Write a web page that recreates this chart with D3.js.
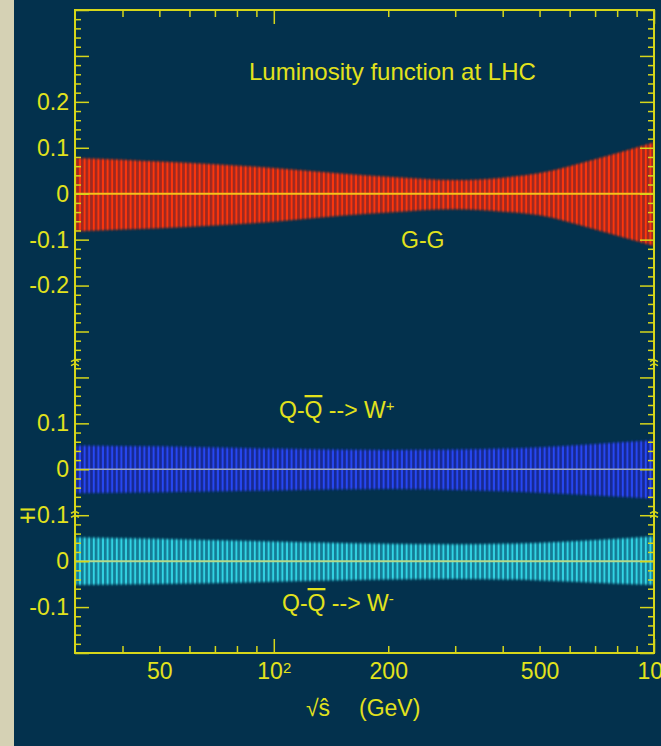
<!DOCTYPE html>
<html>
<head>
<meta charset="utf-8">
<script src="https://cdn.jsdelivr.net/npm/d3@7"></script>
<style>
body { margin: 0; background: #03314d; }
text { font-family: "Liberation Sans", Arial, Helvetica, sans-serif; fill: #e2e21c; }
</style>
</head>
<body>
<div id="chart"></div>
<script>
// sqrt(s) in GeV, relative uncertainty bands
var ggE = [30, 40, 50, 70, 100, 150, 200, 300, 400, 500, 700, 1000];
var ggUp = [0.078, 0.074, 0.070, 0.064, 0.056, 0.044, 0.037, 0.030, 0.035, 0.045, 0.075, 0.112];
var ggDn = [-0.082, -0.078, -0.075, -0.069, -0.061, -0.048, -0.041, -0.034, -0.039, -0.047, -0.078, -0.114];

var qqE = [30, 50, 100, 200, 300, 500, 700, 1000];
var wpUp = [0.052, 0.050, 0.045, 0.042, 0.043, 0.048, 0.055, 0.063];
var wpDn = [-0.052, -0.050, -0.046, -0.043, -0.045, -0.051, -0.057, -0.064];
var wmUp = [0.052, 0.049, 0.043, 0.038, 0.037, 0.040, 0.046, 0.054];
var wmDn = [-0.052, -0.050, -0.045, -0.040, -0.039, -0.042, -0.047, -0.052];

// x tick labels
var xTicks = [40, 50, 60, 70, 80, 90, 100, 200, 300, 400, 500, 600, 700, 800, 900, 1000];
var xLabels = {50: "50", 100: "10|2", 200: "200", 500: "500", 1000: "10|3"};

// y tick labels, keyed by hundredths on the stacked axis
var yLabels = {"20": "0.2", "10": "0.1", "0": "0", "-10": "-0.1", "-20": "-0.2",
               "-50": "0.1", "-60": "0", "-70": "\u22130.1",
               "-80": "0", "-90": "-0.1"};

var W = 661, H = 746;
var mLeft = 75, mRight = 654, mTop = 10, mBottom = 653;

var svg = d3.select("#chart").append("svg")
        .attr("width", W)
        .attr("height", H);

svg.append("rect").attr("width", W).attr("height", H).attr("fill", "#03314d");
svg.append("rect").attr("width", 14).attr("height", H).attr("fill", "#d5d1b4");

var x = d3.scaleLog().domain([30, 1000]).range([mLeft, mRight]);
var y = d3.scaleLinear().domain([-1.0, 0.4]).range([mBottom, mTop]);

var defs = svg.append("defs");
defs.append("filter").attr("id", "soft")
        .append("feGaussianBlur").attr("stdDeviation", "0.2 1.3");

function stripes(id, base, bright) {
    var p = defs.append("pattern").attr("id", id)
            .attr("patternUnits", "userSpaceOnUse")
            .attr("width", 4.6).attr("height", 10);
    p.append("rect").attr("width", 4.6).attr("height", 10).attr("fill", base);
    p.append("rect").attr("x", 0.8).attr("width", 1.9).attr("height", 10).attr("fill", bright);
}
stripes("redStripes", "#9c2a22", "#ff3608");
stripes("blueStripes", "#182a92", "#2848f6");
stripes("cyanStripes", "#137a94", "#34d6e6");

var bands = [
    {e: ggE, up: ggUp, dn: ggDn, off: 0, fill: "url(#redStripes)", line: "#f2c21c", lw: 2},
    {e: qqE, up: wpUp, dn: wpDn, off: -0.6, fill: "url(#blueStripes)", line: "#9aa6c4", lw: 1.5},
    {e: qqE, up: wmUp, dn: wmDn, off: -0.8, fill: "url(#cyanStripes)", line: "#b4d88a", lw: 2}
];

bands.forEach(function (b) {
    var pts = b.e.map(function (e, i) {
        return {e: e, up: b.up[i], dn: b.dn[i]};
    });
    var area = d3.area()
            .curve(d3.curveMonotoneX)
            .x(function (d) { return x(d.e); })
            .y0(function (d) { return y(b.off + d.dn); })
            .y1(function (d) { return y(b.off + d.up); });
    svg.append("path")
            .datum(pts)
            .attr("d", area)
            .attr("fill", b.fill)
            .attr("filter", "url(#soft)");
    svg.append("line")
            .attr("x1", mLeft).attr("x2", mRight)
            .attr("y1", y(b.off)).attr("y2", y(b.off))
            .attr("stroke", b.line)
            .attr("stroke-width", b.lw);
});

// axes with inward ticks
var yTicks = d3.range(-50, 21).map(function (i) { return i * 0.02; });
function isMajorY(v) { return Math.round(v * 50) % 5 === 0; }
function key(v) { return String(Math.round(v * 100)); }

function styleAxis(g) {
    g.select(".domain").remove();
    g.selectAll(".tick line").attr("stroke", "#d6d61a").attr("stroke-width", 1.5);
    g.selectAll(".tick text")
            .attr("fill", "#e2e21c")
            .style("font-family", "'Liberation Sans', Arial, sans-serif")
            .style("font-size", "23px");
}

var yl = svg.append("g")
        .attr("transform", "translate(" + mLeft + ",0)")
        .call(d3.axisLeft(y).tickValues(yTicks).tickSizeInner(-6).tickSizeOuter(0).tickPadding(6)
                .tickFormat(function (v) { return yLabels[key(v)] || ""; }))
        .call(styleAxis);
yl.selectAll(".tick line").attr("x2", function (v) { return isMajorY(v) ? 14 : 6; });

var yr = svg.append("g")
        .attr("transform", "translate(" + mRight + ",0)")
        .call(d3.axisRight(y).tickValues(yTicks).tickSizeInner(-6).tickSizeOuter(0)
                .tickFormat(""))
        .call(styleAxis);
yr.selectAll(".tick line").attr("x2", function (v) { return isMajorY(v) ? -14 : -6; });

function isMajorX(v) { return v === 100 || v === 1000; }

var xb = svg.append("g")
        .attr("transform", "translate(0," + mBottom + ")")
        .call(d3.axisBottom(x).tickValues(xTicks).tickSizeInner(-7).tickSizeOuter(0).tickPadding(10)
                .tickFormat(function (v) { return xLabels[v] || ""; }))
        .call(styleAxis);
xb.selectAll(".tick line").attr("y2", function (v) { return isMajorX(v) ? -14 : -7; });
xb.selectAll(".tick text").each(function (v) {
    var s = xLabels[v];
    if (s && s.indexOf("|") > 0) {
        var t = d3.select(this).text(s.split("|")[0]);
        t.append("tspan").attr("dy", "-0.45em").style("font-size", "15px").text(s.split("|")[1]);
    }
});

var xt = svg.append("g")
        .attr("transform", "translate(0," + mTop + ")")
        .call(d3.axisTop(x).tickValues(xTicks).tickSizeInner(-7).tickSizeOuter(0).tickFormat(""))
        .call(styleAxis);
xt.selectAll(".tick line").attr("y2", function (v) { return isMajorX(v) ? 14 : 7; });

// frame
svg.append("rect")
        .attr("x", mLeft).attr("y", mTop)
        .attr("width", mRight - mLeft).attr("height", mBottom - mTop)
        .attr("fill", "none")
        .attr("stroke", "#d6d61a")
        .attr("stroke-width", 2);

// axis break marks
[-0.37, -0.7].forEach(function (v) {
    [mLeft, mRight].forEach(function (xx) {
        svg.append("path")
                .attr("d", "M" + (xx - 4) + "," + (y(v) - 2) + "l4,-2l4,2M" + (xx - 4) + "," + (y(v) + 2) + "l4,-2l4,2")
                .attr("fill", "none")
                .attr("stroke", "#d6d61a")
                .attr("stroke-width", 1.5);
    });
});

// labels
svg.append("text").attr("x", 249).attr("y", 80).style("font-size", "24px")
        .text("Luminosity function at LHC");
svg.append("text").attr("x", 401).attr("y", 248).style("font-size", "23px")
        .text("G-G");

function qqLabel(xx, yy, sign) {
    var t = svg.append("text").attr("x", xx).attr("y", yy).style("font-size", "23px");
    t.append("tspan").text("Q-");
    t.append("tspan").style("text-decoration", "overline").text("Q");
    t.append("tspan").text(" --> W");
    t.append("tspan").attr("dy", "-0.45em").style("font-size", "15px").text(sign);
}
qqLabel(279, 418, "+");
qqLabel(282, 611, "-");

svg.append("text").attr("x", 306).attr("y", 716).style("font-size", "23px").text("\u221As\u0302");
svg.append("text").attr("x", 359).attr("y", 716).style("font-size", "23px").text("(GeV)");
</script>
</body>
</html>
